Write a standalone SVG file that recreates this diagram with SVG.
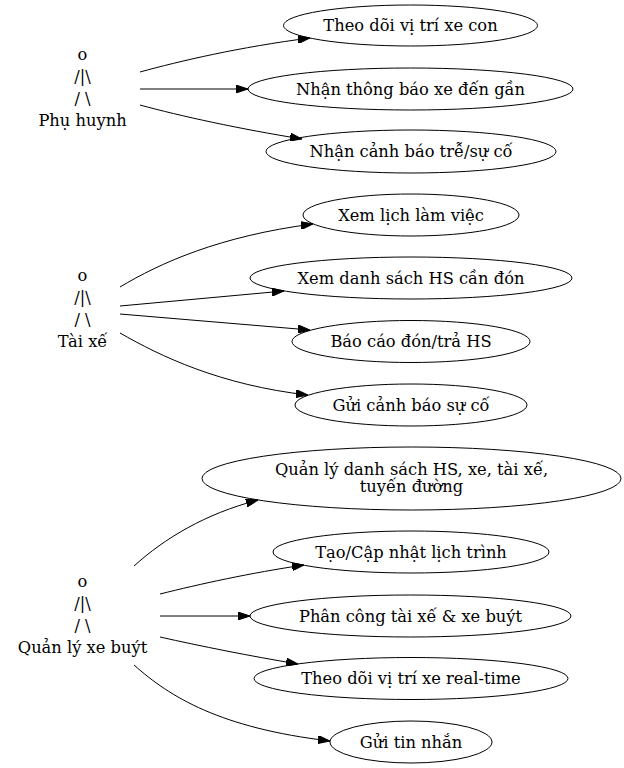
<svg xmlns="http://www.w3.org/2000/svg" width="624" height="768" viewBox="0 0 624 768">
<style>
text{font-family:"DejaVu Serif","Liberation Serif",serif;font-size:16.3px;fill:#000;text-anchor:middle}
ellipse{fill:none;stroke:#000;stroke-width:1}
.e path{fill:none;stroke:#000;stroke-width:1;marker-end:url(#ah)}
</style>
<defs>
<marker id="ah" markerUnits="userSpaceOnUse" markerWidth="12" markerHeight="8" refX="12" refY="4" orient="auto">
<path d="M0,0 L12,4 L0,8 z" fill="#000" stroke="#000" stroke-width="1"/>
</marker>
</defs>
<rect width="624" height="768" fill="#fff"/>
<g id="actor_phuhuynh"><text x="82.5" y="60">o</text><text x="82.5" y="82">/|\</text><text x="82.5" y="104">/ \</text><text x="82.5" y="126">Phụ huynh</text></g>
<g id="actor_taixe"><text x="82.5" y="281">o</text><text x="82.5" y="303">/|\</text><text x="82.5" y="325">/ \</text><text x="82.5" y="347">Tài xế</text></g>
<g id="actor_quanly"><text x="82.5" y="587">o</text><text x="82.5" y="609">/|\</text><text x="82.5" y="631">/ \</text><text x="82.5" y="653">Quản lý xe buýt</text></g>
<g id="uc1"><ellipse cx="410.5" cy="25.5" rx="127" ry="20.5"/><text x="410.5" y="31">Theo dõi vị trí xe con</text></g>
<g id="uc2"><ellipse cx="410.5" cy="89" rx="162.5" ry="21"/><text x="410.5" y="94.5">Nhận thông báo xe đến gần</text></g>
<g id="uc3"><ellipse cx="411" cy="151.5" rx="145" ry="21.5"/><text x="411" y="157">Nhận cảnh báo trễ/sự cố</text></g>
<g id="uc4"><ellipse cx="411" cy="215" rx="108" ry="21"/><text x="411" y="220.5">Xem lịch làm việc</text></g>
<g id="uc5"><ellipse cx="411" cy="278" rx="161" ry="21"/><text x="411" y="283.5">Xem danh sách HS cần đón</text></g>
<g id="uc6"><ellipse cx="411" cy="341.5" rx="119" ry="21"/><text x="411" y="347">Báo cáo đón/trả HS</text></g>
<g id="uc7"><ellipse cx="411" cy="405" rx="116" ry="21"/><text x="411" y="410.5">Gửi cảnh báo sự cố</text></g>
<g id="uc8"><ellipse cx="411.5" cy="478.5" rx="209.5" ry="31.5"/><text x="411.5" y="474.5">Quản lý danh sách HS, xe, tài xế,</text><text x="411.5" y="492">tuyến đường</text></g>
<g id="uc9"><ellipse cx="411" cy="552" rx="138" ry="21"/><text x="411" y="557.5">Tạo/Cập nhật lịch trình</text></g>
<g id="uc10"><ellipse cx="410.5" cy="616" rx="160.5" ry="21"/><text x="410.5" y="621.5">Phân công tài xế &amp; xe buýt</text></g>
<g id="uc11"><ellipse cx="411" cy="678.5" rx="157" ry="21"/><text x="411" y="684">Theo dõi vị trí xe real-time</text></g>
<g id="uc12"><ellipse cx="411" cy="742" rx="81" ry="21"/><text x="411" y="747.5">Gửi tin nhắn</text></g>
<g id="connectors" class="e">
<path d="M140,72 C180,61 240,47 310,38"/>
<path d="M140,89 L248,89"/>
<path d="M140,105 C180,116 240,129 302,139"/>
<path d="M120,287 C160,263 220,236 313,224"/>
<path d="M120,306 L284,291"/>
<path d="M120,314 L310,330"/>
<path d="M120,333 C160,356 220,385 308,395"/>
<path d="M134,566 C165,538 205,514 258,500"/>
<path d="M160,594 C200,584 250,573 304,565"/>
<path d="M160,616 L250,616"/>
<path d="M160,637 C200,646 250,656 298,664"/>
<path d="M134,665 C170,697 220,728 330,741"/>
</g>
</svg>
